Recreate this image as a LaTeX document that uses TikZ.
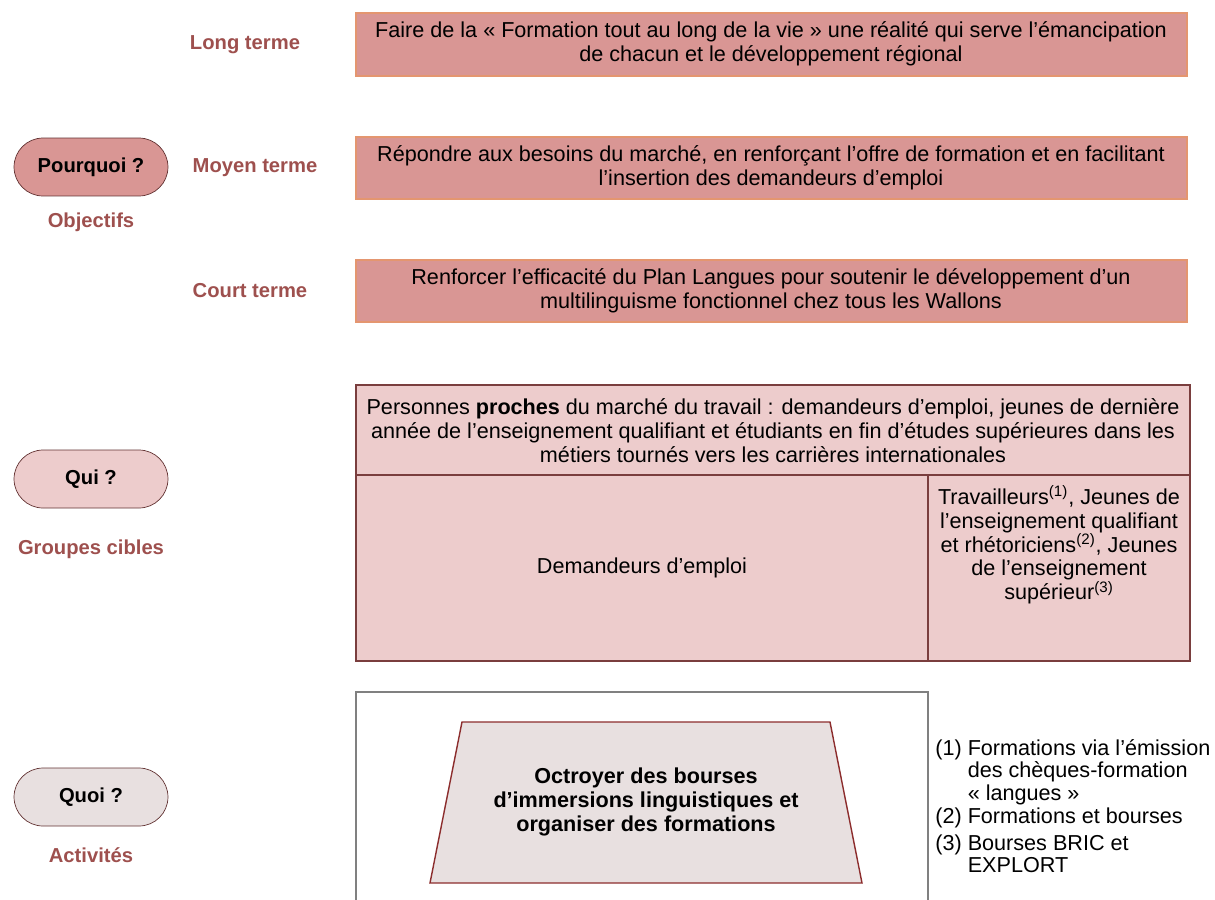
\documentclass[tikz,border=0pt]{standalone}
\usepackage{fontspec}
\setmainfont{Liberation Sans}
\usepackage{tikz}

\definecolor{roseFonce}{RGB}{217,150,148}
\definecolor{roseClair}{RGB}{237,204,204}
\definecolor{grisRose}{RGB}{232,224,224}
\definecolor{brunLabel}{RGB}{158,80,78}
\definecolor{bordOrange}{RGB}{228,150,112}
\definecolor{bordBrun}{RGB}{122,62,62}
\definecolor{bordRouge}{RGB}{140,45,45}

\tikzset{
  label/.style={font=\bfseries\fontsize{11.5}{14}\selectfont, text=brunLabel},
  pill/.style={draw=bordBrun!80!black, rounded corners=0.58cm, minimum width=3.08cm,
    minimum height=1.16cm, font=\bfseries\fontsize{11.5}{14}\selectfont},
  objbox/.style={draw=bordOrange, fill=roseFonce, thick},
  cible/.style={draw=bordBrun, fill=roseClair, thick},
  texte/.style={align=center, font=\fontsize{12.3}{13.6}\selectfont, inner sep=0pt},
  note/.style={align=left, font=\fontsize{12.3}{12.8}\selectfont, inner sep=0pt, anchor=west},
}

\begin{document}
\begin{tikzpicture}[x=0.02cm, y=-0.02cm]

\useasboundingbox (0,0) rectangle (1215,900);

% objectifs
\node[pill, fill=roseFonce] (pourquoi) at (91,167) {Pourquoi ?};
\node[label] (objectifs) at (91,222) {Objectifs};

\node[label] (long) at (245,45) {Long terme};
\node[label] (moyen) at (255,168) {Moyen terme};
\node[label] (court) at (250,291) {Court terme};

\draw[objbox] (356,13) rectangle (1187,76);
\node[texte] (longtxt) at (771,44) {Faire de la « Formation tout au long de la vie » une réalité qui serve l’émancipation\\
de chacun et le développement régional};

\draw[objbox] (356,137) rectangle (1187,199);
\node[texte] (moyentxt) at (771,168) {Répondre aux besoins du marché, en renforçant l’offre de formation et en facilitant\\
l’insertion des demandeurs d’emploi};

\draw[objbox] (356,260) rectangle (1187,322);
\node[texte] (courttxt) at (771,291) {Renforcer l’efficacité du Plan Langues pour soutenir le développement d’un\\
multilinguisme fonctionnel chez tous les Wallons};

% groupes cibles
\node[pill, fill=roseClair] (qui) at (91,479) {Qui ?};
\node[label] (groupes) at (91,549) {Groupes cibles};

\draw[cible] (356,385) rectangle (1190,475);
\draw[cible] (356,475) rectangle (928,661);
\draw[cible] (928,475) rectangle (1190,661);

\node[texte] (proches) at (773,431) {Personnes \textbf{proches} du marché du travail : demandeurs d’emploi, jeunes de dernière\\
année de l’enseignement qualifiant et étudiants en fin d’études supérieures dans les\\
métiers tournés vers les carrières internationales};
\node[texte] (demandeurs) at (642,568) {Demandeurs d’emploi};
\node[texte] (autres) at (1059,545) {Travailleurs\textsuperscript{(1)}, Jeunes de\\
l’enseignement qualifiant\\
et rhétoriciens\textsuperscript{(2)}, Jeunes\\
de l’enseignement\\
supérieur\textsuperscript{(3)}};

% activites
\node[pill, fill=grisRose] (quoi) at (91,797) {Quoi ?};
\node[label] (activites) at (91,855) {Activités};

\draw[gray, thick] (356,900) -- (356,692) -- (928,692) -- (928,900);
\draw[draw=bordRouge, fill=grisRose, thick] (462,722) -- (830,722) -- (862,883) -- (430,883) -- cycle;
\node[texte, font=\bfseries\fontsize{12.3}{13.6}\selectfont] (octroyer) at (646,802)
  {Octroyer des bourses\\ d’immersions linguistiques et\\ organiser des formations};

\node[note] (note1) at (935,772) {(1) Formations via l’émission\\
\phantom{(1) }des chèques-formation\\
\phantom{(1) }« langues »};
\node[note] (note2) at (935,818) {(2) Formations et bourses};
\node[note] (note3) at (935,856) {(3) Bourses BRIC et\\
\phantom{(3) }EXPLORT};

\end{tikzpicture}
\end{document}
